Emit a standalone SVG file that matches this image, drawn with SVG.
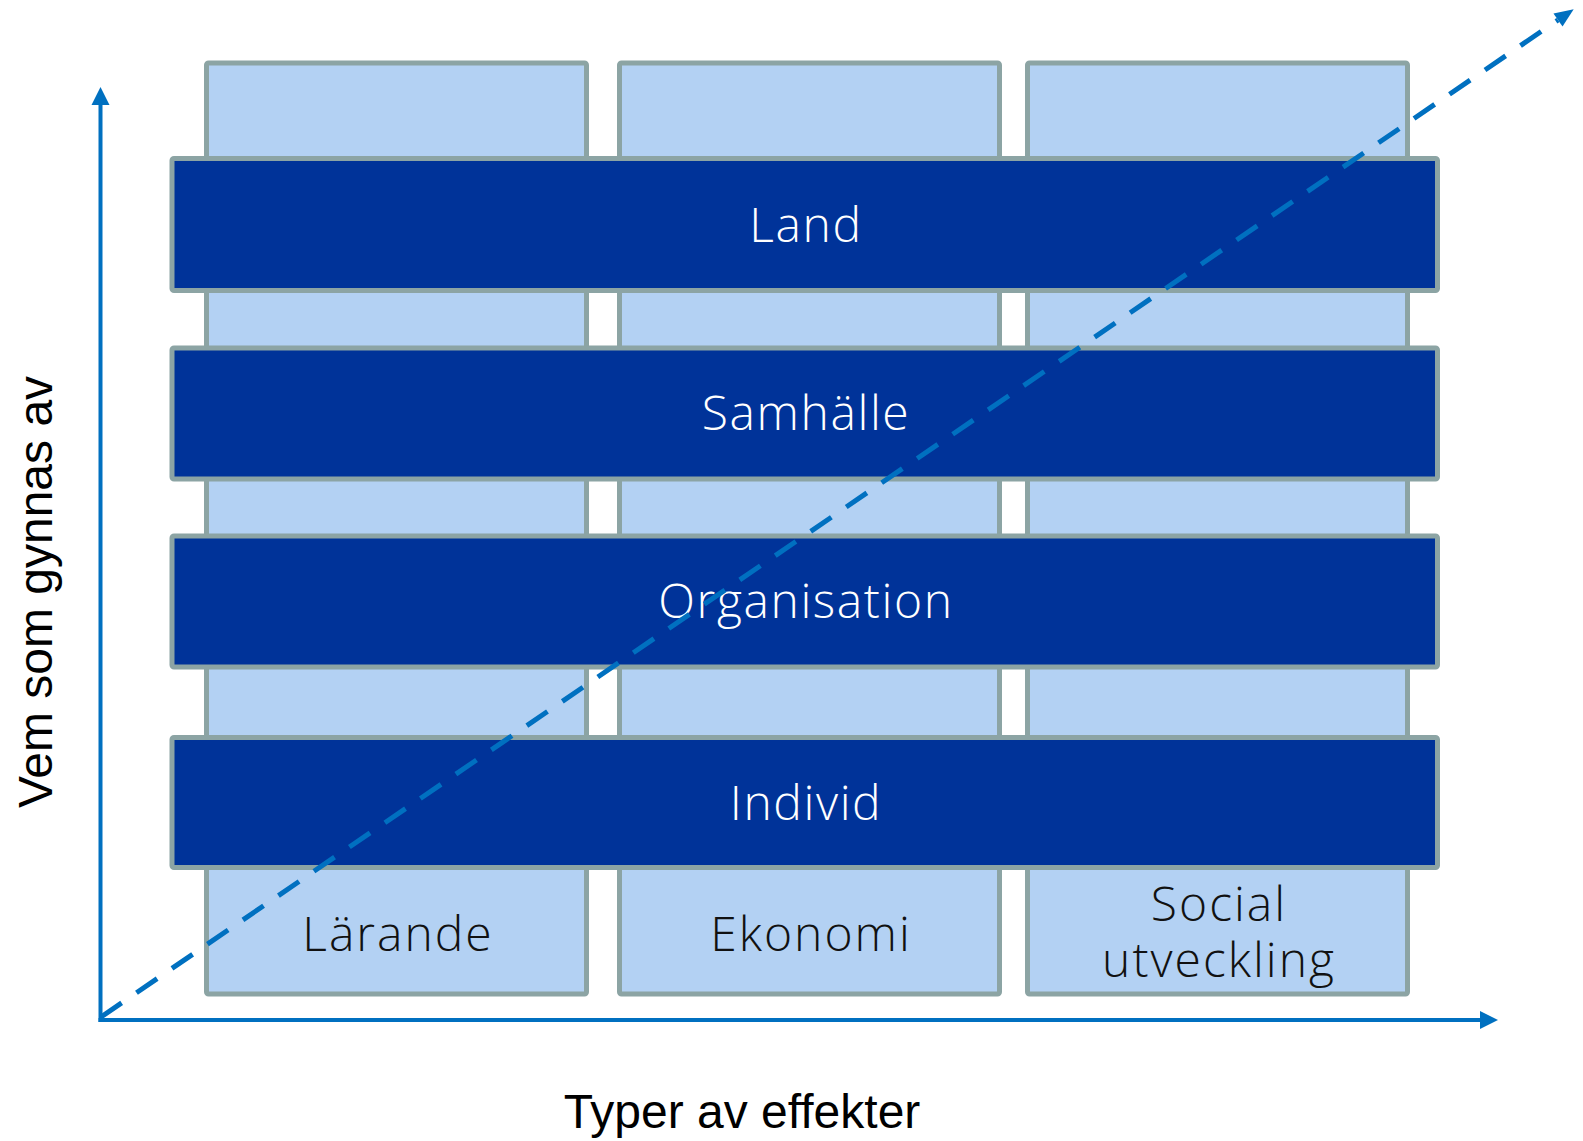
<svg xmlns="http://www.w3.org/2000/svg" width="1583" height="1141" viewBox="0 0 1583 1141">
<style>
.col{fill:#B3D1F3;stroke:#8CA4A4;stroke-width:5}
.band{fill:#003399;stroke:#8CA4A4;stroke-width:5}
.bl{font-family:"Open Sans","Lato",Roboto,sans-serif;font-weight:300;font-size:48px;letter-spacing:1.6px;fill:#FFFFFF;text-anchor:middle}
.cl{font-family:"Open Sans","Lato",Roboto,sans-serif;font-weight:300;font-size:48px;letter-spacing:2px;fill:#111111;text-anchor:middle}
.ax{font-family:"Liberation Sans",Arial,sans-serif;font-size:48px;fill:#000000;text-anchor:middle}
.axis{stroke:#0070C0;stroke-width:4;fill:none}
.diag{stroke:#0070C0;stroke-width:5;fill:none;stroke-dasharray:25 18}
</style>
<defs>
<marker id="ah" markerUnits="userSpaceOnUse" markerWidth="18" markerHeight="18" refX="0" refY="9" orient="auto" overflow="visible">
<path d="M0,0 L18,9 L0,18 Z" fill="#0070C0"/>
</marker>
<marker id="ah2" markerUnits="userSpaceOnUse" markerWidth="19" markerHeight="16" refX="0" refY="8" orient="auto" overflow="visible">
<path d="M0,0 L19,8 L0,16 Z" fill="#0070C0"/>
</marker>
</defs>
<g id="col-larande">
<rect class="col" x="206.5" y="63" width="380" height="931" rx="2"/>
</g>
<g id="col-ekonomi">
<rect class="col" x="619.5" y="63" width="380" height="931" rx="2"/>
</g>
<g id="col-social">
<rect class="col" x="1027.5" y="63" width="380" height="931" rx="2"/>
</g>
<g id="band-land">
<rect class="band" x="172" y="158.5" width="1265.5" height="132" rx="2"/>
<text class="bl" x="806" y="242">Land</text>
</g>
<g id="band-samhalle">
<rect class="band" x="172" y="348" width="1265.5" height="131" rx="2"/>
<text class="bl" x="806" y="430">Samhälle</text>
</g>
<g id="band-organisation">
<rect class="band" x="172" y="536" width="1265.5" height="131" rx="2"/>
<text class="bl" x="806" y="618">Organisation</text>
</g>
<g id="band-individ">
<rect class="band" x="172" y="737.5" width="1265.5" height="130" rx="2"/>
<text class="bl" x="806" y="820">Individ</text>
</g>
<g id="label-larande">
<text class="cl" x="398" y="951">Lärande</text>
</g>
<g id="label-ekonomi">
<text class="cl" x="811" y="951">Ekonomi</text>
</g>
<g id="label-social">
<text class="cl" x="1219" y="921">Social</text>
<text class="cl" x="1219" y="977">utveckling</text>
</g>
<g id="axis-labels">
<text class="ax" x="742" y="1128">Typer av effekter</text>
<text class="ax" transform="translate(52,592) rotate(-90)" x="0" y="0">Vem som gynnas av</text>
</g>
<g id="connectors">
<line class="axis" x1="100.5" y1="1022" x2="100.5" y2="105" marker-end="url(#ah)"/>
<line class="axis" x1="98.5" y1="1020" x2="1480" y2="1020" marker-end="url(#ah)"/>
<line class="diag" x1="101" y1="1017" x2="1558" y2="20" marker-end="url(#ah2)"/>
</g>
</svg>
